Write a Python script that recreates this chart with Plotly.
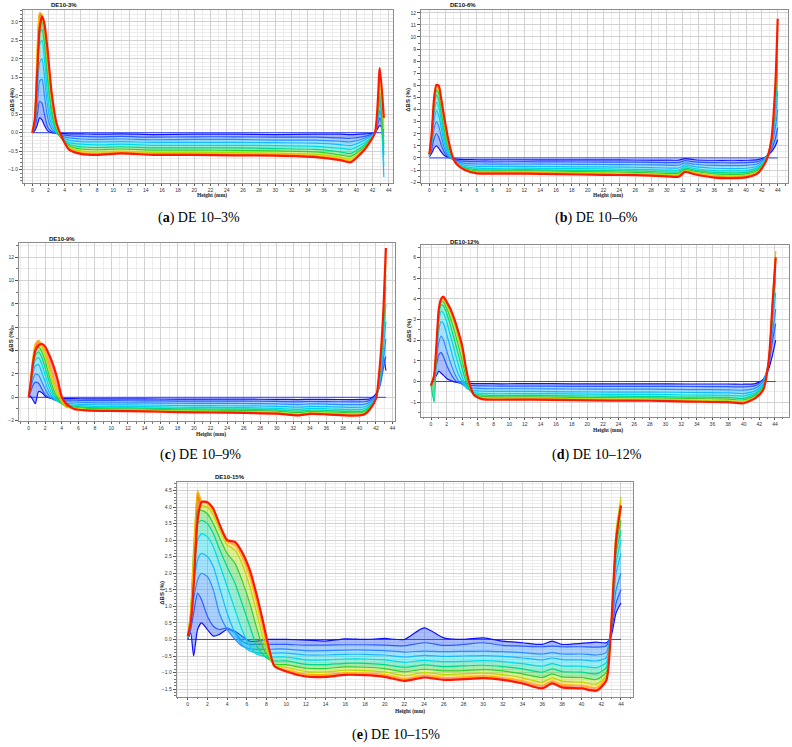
import plotly.graph_objects as go

# ---------------- data ----------------
line_colors = ['#1010ff', '#2a5cff', '#2b8cff', '#18b8ff', '#00d8e8',
               '#00d890', '#30d030', '#b4dc00', '#ffb400', '#ff1800']
baseline_color = '#3040ff'

panel_titles = ['DE10-3%', 'DE10-6%', 'DE10-9%', 'DE10-12%', 'DE10-15%']
captions = ['(<b>a</b>) DE 10–3%', '(<b>b</b>) DE 10–6%', '(<b>c</b>) DE 10–9%',
            '(<b>d</b>) DE 10–12%', '(<b>e</b>) DE 10–15%']
x_title = 'Height (mm)'
y_title = 'ΔBS (%)'

# ---- (a) DE10-3% ----
height_a = [0, 0.3, 0.6, 0.9, 1.2, 1.5, 1.9, 2.4, 3.0, 3.5, 4.5, 6, 8, 11, 15, 20, 25, 30, 35, 38, 39.3, 41, 42.3, 42.9, 43.4]
bs_a = [
    [0, 0.05, 0.2, 0.4, 0.35, 0.2, 0.05, 0.0, -0.01, -0.02, -0.03, -0.03, -0.04, -0.03, -0.05, -0.04, -0.04, -0.05, -0.04, -0.04, -0.05, -0.03, 0.0, 0.2, 0.05],
    [0, 0.1, 0.45, 0.85, 0.8, 0.5, 0.15, 0.03, -0.02, -0.05, -0.08, -0.1, -0.11, -0.1, -0.12, -0.11, -0.11, -0.12, -0.12, -0.14, -0.15, -0.1, 0.0, 0.4, -0.1],
    [0, 0.15, 0.7, 1.4, 1.45, 1.0, 0.4, 0.1, -0.02, -0.08, -0.14, -0.17, -0.18, -0.17, -0.19, -0.18, -0.18, -0.2, -0.2, -0.23, -0.25, -0.15, 0.0, 0.6, -0.4],
    [0, 0.2, 1.0, 1.9, 2.0, 1.5, 0.7, 0.2, 0.0, -0.1, -0.2, -0.24, -0.25, -0.24, -0.26, -0.26, -0.26, -0.27, -0.28, -0.32, -0.35, -0.2, 0.0, 0.8, -1.2],
    [0, 0.25, 1.3, 2.4, 2.5, 2.0, 1.0, 0.35, 0.02, -0.12, -0.26, -0.31, -0.33, -0.31, -0.34, -0.34, -0.34, -0.35, -0.37, -0.42, -0.45, -0.27, 0.0, 0.9, -0.9],
    [0, 0.3, 1.6, 2.7, 2.8, 2.4, 1.4, 0.5, 0.05, -0.13, -0.31, -0.38, -0.4, -0.38, -0.41, -0.41, -0.41, -0.43, -0.45, -0.52, -0.56, -0.33, 0.0, 1.0, -0.6],
    [0, 0.35, 1.9, 2.95, 3.0, 2.6, 1.6, 0.65, 0.1, -0.12, -0.35, -0.44, -0.46, -0.44, -0.47, -0.47, -0.48, -0.49, -0.52, -0.6, -0.64, -0.38, 0.0, 1.1, -0.3],
    [0, 0.4, 2.2, 3.2, 3.15, 2.75, 1.8, 0.8, 0.15, -0.1, -0.39, -0.49, -0.52, -0.5, -0.53, -0.53, -0.54, -0.55, -0.58, -0.66, -0.71, -0.41, 0.0, 1.3, 0.1],
    [0, 0.45, 2.3, 3.25, 3.2, 2.85, 1.95, 0.9, 0.2, -0.07, -0.42, -0.53, -0.56, -0.53, -0.56, -0.56, -0.57, -0.58, -0.62, -0.7, -0.76, -0.44, 0.0, 1.5, 0.3],
    [0, 0.35, 1.6, 2.8, 3.15, 2.95, 2.2, 1.05, 0.25, -0.05, -0.45, -0.57, -0.6, -0.56, -0.6, -0.6, -0.61, -0.62, -0.66, -0.74, -0.8, -0.46, 0.0, 1.75, 0.4],
]

# ---- (b) DE10-6% ----
height_b = [0, 0.3, 0.6, 0.9, 1.2, 1.5, 1.9, 2.4, 3.0, 3.5, 4.5, 6, 8, 12, 16, 22, 26, 30, 31.5, 32.3, 33.5, 36, 38, 40, 41.5, 42.5, 43.2, 43.7, 44.0]
bs_b_left = [
    [0.1, 0.4, 0.8, 1.0, 0.8, 0.5, 0.2, 0.05, -0.05, -0.1, -0.13],
    [0.1, 0.7, 1.6, 2.0, 1.7, 1.1, 0.45, 0.05, -0.1, -0.2, -0.28],
    [0.15, 1.0, 2.4, 3.0, 2.6, 1.8, 0.8, 0.15, -0.15, -0.3, -0.45],
    [0.2, 1.3, 3.1, 3.9, 3.5, 2.5, 1.2, 0.3, -0.15, -0.4, -0.6],
    [0.2, 1.5, 3.7, 4.6, 4.2, 3.1, 1.6, 0.5, -0.1, -0.45, -0.72],
    [0.25, 1.7, 4.2, 5.2, 4.8, 3.7, 2.0, 0.7, -0.05, -0.5, -0.82],
    [0.25, 1.85, 4.5, 5.6, 5.3, 4.1, 2.4, 0.9, 0.0, -0.5, -0.88],
    [0.3, 2.0, 4.8, 5.9, 5.6, 4.5, 2.8, 1.1, 0.0, -0.5, -0.93],
    [0.3, 2.1, 5.0, 6.05, 5.8, 4.7, 3.1, 1.3, 0.0, -0.5, -0.97],
    [0.3, 2.0, 4.9, 6.05, 5.95, 4.9, 3.3, 1.5, 0.0, -0.55, -1.0],
]
bs_b_mid = [
    [-0.15, -0.15, -0.15, -0.16, -0.16, -0.17, -0.18, -0.18, -0.05, -0.15, -0.19, -0.19, -0.19, -0.14],
    [-0.31, -0.32, -0.31, -0.33, -0.34, -0.35, -0.38, -0.38, -0.22, -0.33, -0.39, -0.4, -0.39, -0.3],
    [-0.5, -0.51, -0.5, -0.52, -0.54, -0.56, -0.6, -0.6, -0.4, -0.52, -0.62, -0.64, -0.62, -0.48],
    [-0.69, -0.7, -0.69, -0.72, -0.74, -0.77, -0.83, -0.83, -0.58, -0.72, -0.85, -0.88, -0.85, -0.66],
    [-0.84, -0.86, -0.84, -0.87, -0.9, -0.94, -1.0, -1.0, -0.72, -0.87, -1.04, -1.07, -1.04, -0.8],
    [-0.96, -0.99, -0.96, -1.0, -1.04, -1.08, -1.16, -1.16, -0.85, -1.0, -1.19, -1.23, -1.19, -0.92],
    [-1.06, -1.09, -1.06, -1.1, -1.15, -1.19, -1.28, -1.28, -0.95, -1.1, -1.32, -1.36, -1.32, -1.02],
    [-1.15, -1.18, -1.15, -1.2, -1.24, -1.29, -1.38, -1.38, -1.04, -1.2, -1.43, -1.47, -1.43, -1.1],
    [-1.21, -1.24, -1.21, -1.26, -1.31, -1.36, -1.46, -1.46, -1.1, -1.26, -1.5, -1.55, -1.5, -1.16],
    [-1.27, -1.29, -1.3, -1.33, -1.4, -1.42, -1.52, -1.55, -1.15, -1.35, -1.62, -1.66, -1.6, -1.25],
]
bs_b_right = [
    [0.1, 0.5, 1.0, 1.5],
    [0.1, 0.7, 1.6, 2.5],
    [0.05, 0.9, 2.5, 4.0],
    [0.0, 1.0, 3.3, 5.5],
    [-0.1, 1.1, 4.0, 7.0],
    [-0.15, 1.2, 4.6, 8.0],
    [-0.2, 1.3, 5.1, 9.0],
    [-0.25, 1.4, 5.5, 10.0],
    [-0.3, 1.45, 5.8, 10.8],
    [-0.3, 1.5, 6.0, 11.5],
]

# ---- (c) DE10-9% ----
height_c = [0, 0.2, 0.5, 0.8, 1.2, 1.6, 2.0, 2.5, 3.0, 3.5, 4.0, 4.5, 5.5, 7, 10, 14, 18, 22, 26, 30, 32.6, 34, 36, 39, 40.5, 41.3, 42.0, 42.5, 42.9, 43.2]
bs_c_left = [
    [0, 0.1, -0.2, -0.55, 0.5, 0.4, 0.1, -0.05, -0.1, -0.11, -0.11, -0.12],
    [0, 0.4, 1.0, 1.3, 1.2, 0.7, 0.25, -0.05, -0.15, -0.2, -0.22, -0.24],
    [0, 0.6, 1.5, 2.0, 1.9, 1.3, 0.7, 0.1, -0.2, -0.3, -0.35, -0.38],
    [0, 0.8, 2.0, 2.7, 2.8, 2.1, 1.3, 0.4, -0.05, -0.35, -0.48, -0.52],
    [0, 0.9, 2.4, 3.2, 3.4, 2.8, 1.9, 0.8, 0.1, -0.3, -0.55, -0.63],
    [0, 1.0, 2.7, 3.6, 3.9, 3.4, 2.5, 1.3, 0.35, -0.2, -0.55, -0.72],
    [0, 1.0, 2.9, 3.9, 4.3, 3.9, 3.1, 1.8, 0.7, -0.05, -0.5, -0.78],
    [0, 1.1, 3.1, 4.2, 4.55, 4.3, 3.6, 2.3, 1.1, 0.2, -0.4, -0.82],
    [0, 1.3, 3.4, 4.6, 4.9, 4.5, 3.9, 2.7, 1.5, 0.5, -0.25, -0.82],
    [0, 1.0, 2.8, 4.0, 4.45, 4.57, 4.35, 3.6, 2.7, 1.5, 0.05, -0.5],
]
bs_c_mid = [
    [-0.12, -0.13, -0.14, -0.14, -0.15, -0.16, -0.16, -0.17, -0.19, -0.17, -0.18, -0.19, -0.18, -0.12],
    [-0.25, -0.28, -0.29, -0.3, -0.32, -0.33, -0.33, -0.35, -0.39, -0.36, -0.37, -0.39, -0.38, -0.25],
    [-0.4, -0.45, -0.47, -0.48, -0.51, -0.52, -0.53, -0.56, -0.62, -0.57, -0.58, -0.63, -0.6, -0.4],
    [-0.55, -0.62, -0.64, -0.66, -0.7, -0.72, -0.73, -0.77, -0.85, -0.78, -0.8, -0.86, -0.83, -0.55],
    [-0.67, -0.75, -0.78, -0.8, -0.85, -0.87, -0.89, -0.94, -1.04, -0.95, -0.98, -1.05, -1.0, -0.67],
    [-0.77, -0.86, -0.9, -0.92, -0.98, -1.0, -1.02, -1.08, -1.19, -1.09, -1.12, -1.21, -1.16, -0.77],
    [-0.85, -0.95, -0.99, -1.02, -1.08, -1.1, -1.13, -1.19, -1.32, -1.21, -1.24, -1.33, -1.28, -0.85],
    [-0.92, -1.03, -1.08, -1.1, -1.17, -1.2, -1.22, -1.29, -1.43, -1.31, -1.34, -1.44, -1.38, -0.92],
    [-0.97, -1.09, -1.13, -1.16, -1.23, -1.26, -1.29, -1.36, -1.5, -1.38, -1.42, -1.52, -1.46, -0.97],
    [-1.0, -1.12, -1.17, -1.2, -1.27, -1.3, -1.33, -1.4, -1.55, -1.42, -1.46, -1.57, -1.5, -1.0],
]
bs_c_right = [
    [0.3, 1.2, 3.5, 2.3],
    [0.2, 1.0, 2.5, 3.5],
    [0.1, 1.2, 3.3, 5.0],
    [0.0, 1.5, 4.2, 6.5],
    [-0.05, 1.8, 5.0, 8.0],
    [-0.1, 2.1, 5.8, 9.5],
    [-0.1, 2.4, 6.4, 10.5],
    [-0.1, 2.7, 7.0, 11.5],
    [-0.1, 2.9, 7.3, 12.2],
    [-0.1, 3.0, 7.5, 12.8],
]

# ---- (d) DE10-12% ----
height_d = [0, 0.4, 0.7, 1.0, 1.3, 1.6, 2.0, 2.5, 3.0, 3.5, 4.0, 4.5, 5.0, 5.5, 6.5, 9, 13, 18, 23, 28, 33, 38, 40, 41.5, 42.5, 43.2, 43.7, 44.1]
bs_d_left = [
    [-0.1, 0.1, 0.3, 0.5, 0.4, 0.3, 0.15, 0.05, -0.02, -0.05, -0.07, -0.08, -0.09, -0.1],
    [-0.1, 0.2, 0.8, 1.3, 1.4, 1.2, 0.8, 0.4, 0.1, -0.05, -0.12, -0.16, -0.18, -0.2],
    [-0.15, 0.2, 1.1, 1.9, 2.2, 2.0, 1.5, 0.9, 0.4, 0.05, -0.15, -0.25, -0.3, -0.32],
    [-0.15, 0.25, 1.4, 2.5, 2.9, 2.8, 2.3, 1.6, 0.9, 0.35, 0.0, -0.3, -0.4, -0.44],
    [-0.2, 0.25, 1.5, 2.9, 3.4, 3.3, 2.9, 2.2, 1.5, 0.8, 0.2, -0.25, -0.45, -0.54],
    [-0.2, -1.0, 1.2, 3.2, 3.7, 3.65, 3.3, 2.7, 2.0, 1.3, 0.6, -0.05, -0.45, -0.6],
    [-0.2, 0.3, 1.7, 3.4, 3.85, 3.85, 3.55, 3.05, 2.45, 1.75, 1.0, 0.2, -0.35, -0.63],
    [-0.2, 0.3, 1.8, 3.5, 3.9, 3.95, 3.7, 3.3, 2.75, 2.1, 1.35, 0.4, -0.3, -0.65],
    [-0.2, 0.3, 1.8, 3.55, 3.95, 4.0, 3.8, 3.4, 2.9, 2.3, 1.55, 0.5, -0.25, -0.65],
    [-0.2, 0.3, 1.8, 3.5, 4.0, 4.1, 3.85, 3.5, 3.0, 2.4, 1.7, 0.6, -0.2, -0.65],
]
bs_d_mid = [
    [-0.1, -0.11, -0.1, -0.11, -0.11, -0.11, -0.12, -0.12, -0.13, -0.1],
    [-0.21, -0.22, -0.22, -0.23, -0.23, -0.23, -0.24, -0.25, -0.26, -0.2],
    [-0.34, -0.35, -0.35, -0.36, -0.37, -0.37, -0.39, -0.4, -0.42, -0.32],
    [-0.47, -0.48, -0.48, -0.5, -0.51, -0.51, -0.53, -0.55, -0.58, -0.44],
    [-0.57, -0.59, -0.58, -0.6, -0.62, -0.62, -0.65, -0.67, -0.7, -0.54],
    [-0.65, -0.68, -0.67, -0.69, -0.71, -0.72, -0.75, -0.77, -0.81, -0.62],
    [-0.72, -0.75, -0.74, -0.77, -0.78, -0.79, -0.82, -0.85, -0.89, -0.68],
    [-0.78, -0.81, -0.8, -0.83, -0.85, -0.86, -0.89, -0.92, -0.97, -0.74],
    [-0.82, -0.85, -0.84, -0.87, -0.89, -0.9, -0.94, -0.97, -1.02, -0.78],
    [-0.85, -0.88, -0.87, -0.9, -0.92, -0.93, -0.97, -1.0, -1.05, -0.8],
]
bs_d_right = [
    [0.1, 0.6, 1.3, 2.0],
    [0.1, 0.8, 2.0, 2.8],
    [0.0, 0.9, 2.4, 3.5],
    [-0.1, 1.0, 2.9, 4.3],
    [-0.15, 1.0, 3.3, 5.0],
    [-0.2, 1.0, 3.6, 5.5],
    [-0.3, 1.0, 3.8, 5.9],
    [-0.35, 1.0, 4.0, 6.3],
    [-0.4, 1.0, 4.0, 6.3],
    [-0.4, 1.0, 3.8, 6.0],
]

# ---- (e) DE10-15% ----
height_e = [0, 0.3, 0.6, 1.0, 1.4, 2.0, 2.6, 3.2, 4.0, 4.8, 5.5, 6.3, 7.0, 7.6, 8.2, 8.8, 10, 12, 14, 16, 18, 20, 22, 24, 26, 28, 30, 32, 34, 36, 37, 38, 40, 41.5, 42.5, 43.0, 43.5, 44.0]
bs_e_left = [
    [0.0, 0.2, -0.5, 0.3, 0.5, 0.3, 0.1, 0.15, 0.3, 0.25, 0.1, -0.05, -0.05, -0.02, 0.0, 0.0],
    [0.0, 0.3, 0.8, 1.4, 1.2, 0.7, 0.4, 0.3, 0.35, 0.2, -0.05, -0.15, -0.15, -0.15, -0.15, -0.15],
    [0.05, 0.4, 1.2, 1.8, 2.0, 1.9, 1.5, 0.8, 0.3, 0.0, -0.2, -0.28, -0.3, -0.3, -0.3, -0.29],
    [0.05, 0.5, 1.6, 2.4, 2.6, 2.5, 2.2, 1.6, 0.8, 0.2, -0.15, -0.35, -0.4, -0.42, -0.42, -0.41],
    [0.05, 0.6, 2.0, 3.0, 3.2, 3.1, 2.8, 2.3, 1.6, 0.9, 0.3, -0.2, -0.45, -0.5, -0.52, -0.53],
    [0.05, 0.7, 2.3, 3.5, 3.6, 3.5, 3.2, 2.75, 2.2, 1.7, 1.1, 0.4, -0.2, -0.45, -0.6, -0.65],
    [0.1, 0.8, 2.6, 3.9, 3.9, 3.8, 3.5, 3.1, 2.6, 2.3, 1.8, 1.1, 0.35, -0.2, -0.55, -0.75],
    [0.1, 0.9, 2.8, 4.3, 4.05, 4.0, 3.75, 3.35, 2.85, 2.7, 2.3, 1.6, 0.8, 0.1, -0.45, -0.8],
    [0.1, 0.8, 2.5, 4.5, 4.2, 4.1, 3.85, 3.45, 2.95, 2.85, 2.5, 1.9, 1.1, 0.35, -0.35, -0.82],
    [0.1, 0.5, 1.6, 3.6, 4.15, 4.15, 3.95, 3.5, 3.0, 2.95, 2.65, 2.1, 1.35, 0.6, -0.2, -0.8],
]
bs_e_mid = [
    [0.0, -0.02, -0.05, 0.02, 0.0, 0.03, 0.0, 0.35, 0.05, 0.0, 0.05, -0.05, -0.1, -0.15, -0.05, -0.15, -0.12, -0.08],
    [-0.15, -0.17, -0.17, -0.16, -0.16, -0.17, -0.19, -0.1, -0.18, -0.15, -0.1, -0.18, -0.2, -0.22, -0.2, -0.22, -0.22, -0.23],
    [-0.29, -0.34, -0.34, -0.32, -0.32, -0.34, -0.38, -0.35, -0.37, -0.36, -0.35, -0.37, -0.4, -0.44, -0.4, -0.44, -0.44, -0.47],
    [-0.41, -0.47, -0.47, -0.45, -0.45, -0.47, -0.53, -0.48, -0.51, -0.5, -0.49, -0.51, -0.56, -0.62, -0.56, -0.61, -0.62, -0.65],
    [-0.53, -0.62, -0.62, -0.59, -0.59, -0.62, -0.69, -0.63, -0.67, -0.66, -0.64, -0.67, -0.73, -0.81, -0.73, -0.8, -0.81, -0.85],
    [-0.65, -0.75, -0.76, -0.72, -0.72, -0.76, -0.84, -0.77, -0.82, -0.8, -0.78, -0.82, -0.89, -0.99, -0.89, -0.97, -0.99, -1.04],
    [-0.76, -0.87, -0.88, -0.83, -0.84, -0.88, -0.98, -0.9, -0.95, -0.94, -0.91, -0.95, -1.04, -1.15, -1.04, -1.13, -1.15, -1.21],
    [-0.84, -0.97, -0.98, -0.93, -0.94, -0.98, -1.09, -1.0, -1.06, -1.04, -1.02, -1.06, -1.16, -1.29, -1.16, -1.26, -1.29, -1.35],
    [-0.91, -1.05, -1.06, -1.01, -1.02, -1.06, -1.18, -1.08, -1.15, -1.13, -1.1, -1.15, -1.25, -1.39, -1.25, -1.36, -1.39, -1.46],
    [-0.97, -1.12, -1.13, -1.07, -1.08, -1.13, -1.25, -1.15, -1.22, -1.2, -1.17, -1.22, -1.33, -1.48, -1.33, -1.45, -1.48, -1.55],
]
bs_e_right = [
    [-0.1, 0.1, 0.8, 1.1],
    [-0.2, 0.2, 1.1, 1.5],
    [-0.4, 0.3, 1.5, 2.0],
    [-0.55, 0.35, 2.0, 2.6],
    [-0.7, 0.4, 2.3, 3.0],
    [-0.85, 0.4, 2.6, 3.3],
    [-1.0, 0.45, 2.8, 3.6],
    [-1.1, 0.5, 3.3, 4.3],
    [-1.15, 0.45, 3.1, 4.2],
    [-1.25, 0.4, 3.0, 4.05],
]

baseline_bs = [0.0, 0.0]


def join(*parts):
    return [sum(seg, []) for seg in zip(*parts)]


panel_heights = [height_a, height_b, height_c, height_d, height_e]
panel_profiles = [
    bs_a,
    join(bs_b_left, bs_b_mid, bs_b_right),
    join(bs_c_left, bs_c_mid, bs_c_right),
    join(bs_d_left, bs_d_mid, bs_d_right),
    join(bs_e_left, bs_e_mid, bs_e_right),
]

# ---------------- layout config (pixel positions) ----------------
W, H = 792, 747
cfg = [
    dict(xd=[23, 393], yd=[10, 183], xr=[-1.15, 44.53], yr=[-1.36, 3.32], ydt=0.5, ymin=0.1, yfmt='.1f',
         title=(64, 5), cap=(199, 218), xt=(211.7, 195.5), yt=(11.7, 100)),
    dict(xd=[421, 788], yd=[10, 183], xr=[-1.05, 45.3], yr=[-2.07, 12.23], ydt=1, ymin=0.5, yfmt='d',
         title=(462.7, 5), cap=(596, 218), xt=(608, 195.5), yt=(407.7, 100)),
    dict(xd=[19, 395], yd=[243.3, 421], xr=[-1.17, 44.3], yr=[-2.03, 13.2], ydt=2, ymin=1, yfmt='d',
         title=(62, 239.3), cap=(200, 455), xt=(211, 434), yt=(11, 340)),
    dict(xd=[421, 789], yd=[245, 416.7], xr=[-1.28, 45.8], yr=[-1.7, 6.6], ydt=1, ymin=0.5, yfmt='d',
         title=(464.7, 242.3), cap=(596.7, 455), xt=(608, 430.5), yt=(409.3, 330)),
    dict(xd=[176.7, 633.3], yd=[482.3, 696.7], xr=[-1.12, 45.25], yr=[-1.73, 4.75], ydt=0.5, ymin=0.1, yfmt='.1f',
         title=(230, 477.3), cap=(395.7, 735), xt=(410, 711.5), yt=(161.7, 593)),
]


def px(x):
    return x / W


def py(y):
    return 1 - y / H


def rgba(hexc, a):
    h = hexc.lstrip('#')
    return 'rgba(%d,%d,%d,%.2f)' % (int(h[0:2], 16), int(h[2:4], 16), int(h[4:6], 16), a)


fig = go.Figure()
layout = dict(width=W, height=H, margin=dict(l=0, r=0, t=0, b=0),
              paper_bgcolor='white', plot_bgcolor='white', showlegend=False,
              template='none', hovermode=False, annotations=[])

for i, (hx, profs, c) in enumerate(zip(panel_heights, panel_profiles, cfg)):
    n = '' if i == 0 else str(i + 1)
    xa, ya = 'x' + n, 'y' + n
    fig.add_trace(go.Scatter(x=[hx[0], hx[-1]], y=baseline_bs, mode='lines',
                             line=dict(color=baseline_color, width=1), xaxis=xa, yaxis=ya))
    for k, prof in enumerate(profs):
        last = k == len(profs) - 1
        fig.add_trace(go.Scatter(x=hx, y=prof, mode='lines',
                                 line=dict(color=line_colors[k], width=2.2 if last else 1.2,
                                           shape='spline', smoothing=0.6),
                                 fill='none' if k == 0 else 'tonexty',
                                 fillcolor=rgba(line_colors[k], 0.4),
                                 xaxis=xa, yaxis=ya))
    layout['xaxis' + n] = dict(domain=[px(c['xd'][0]), px(c['xd'][1])], range=c['xr'], anchor=ya,
                               dtick=2, tick0=0, showgrid=True, gridcolor='#d2d2d2', gridwidth=0.6,
                               zeroline=False, showline=True, mirror=True, linecolor='#8c8c8c', linewidth=1,
                               ticks='outside', ticklen=2, tickcolor='#555', tickwidth=0.6,
                               tickfont=dict(size=5, color='#333', family='Liberation Sans'),
                               minor=dict(dtick=1, showgrid=True, gridcolor='#ececec', gridwidth=0.5,
                                          ticks='outside', ticklen=1.5, tickcolor='#777'),
                               automargin=False, fixedrange=True)
    layout['yaxis' + n] = dict(domain=[py(c['yd'][1]), py(c['yd'][0])], range=c['yr'], anchor=xa,
                               dtick=c['ydt'], tick0=0, tickformat=c['yfmt'], showgrid=True,
                               gridcolor='#d2d2d2', gridwidth=0.6, zeroline=False, showline=True, mirror=True,
                               linecolor='#8c8c8c', linewidth=1, ticks='outside', ticklen=3,
                               tickcolor='#555', tickwidth=0.6,
                               tickfont=dict(size=5, color='#333', family='Liberation Sans'),
                               minor=dict(dtick=c['ymin'], showgrid=True, gridcolor='#ececec', gridwidth=0.5,
                                          ticks='outside', ticklen=2, tickcolor='#777'),
                               automargin=False, fixedrange=True)
    ann = layout['annotations']
    ann.append(dict(text='<b>' + panel_titles[i] + '</b>', x=px(c['title'][0]), y=py(c['title'][1]),
                    xref='paper', yref='paper', showarrow=False, xanchor='center', yanchor='middle',
                    font=dict(size=6, family='Liberation Sans', color='#111')))
    ann.append(dict(text=captions[i], x=px(c['cap'][0]), y=py(c['cap'][1]), xref='paper', yref='paper',
                    showarrow=False, xanchor='center', yanchor='middle',
                    font=dict(size=14, family='Liberation Serif', color='#000')))
    ann.append(dict(text='<b>' + x_title + '</b>', x=px(c['xt'][0]), y=py(c['xt'][1]), xref='paper',
                    yref='paper', showarrow=False, xanchor='center', yanchor='middle',
                    font=dict(size=5.5, family='Liberation Serif', color='#222')))
    ann.append(dict(text='<b>' + y_title + '</b>', x=px(c['yt'][0]), y=py(c['yt'][1]), xref='paper',
                    yref='paper', showarrow=False, xanchor='center', yanchor='middle', textangle=-90,
                    font=dict(size=6, family='Liberation Sans', color='#222')))

fig.update_layout(**layout)
fig.write_html('out.html')
